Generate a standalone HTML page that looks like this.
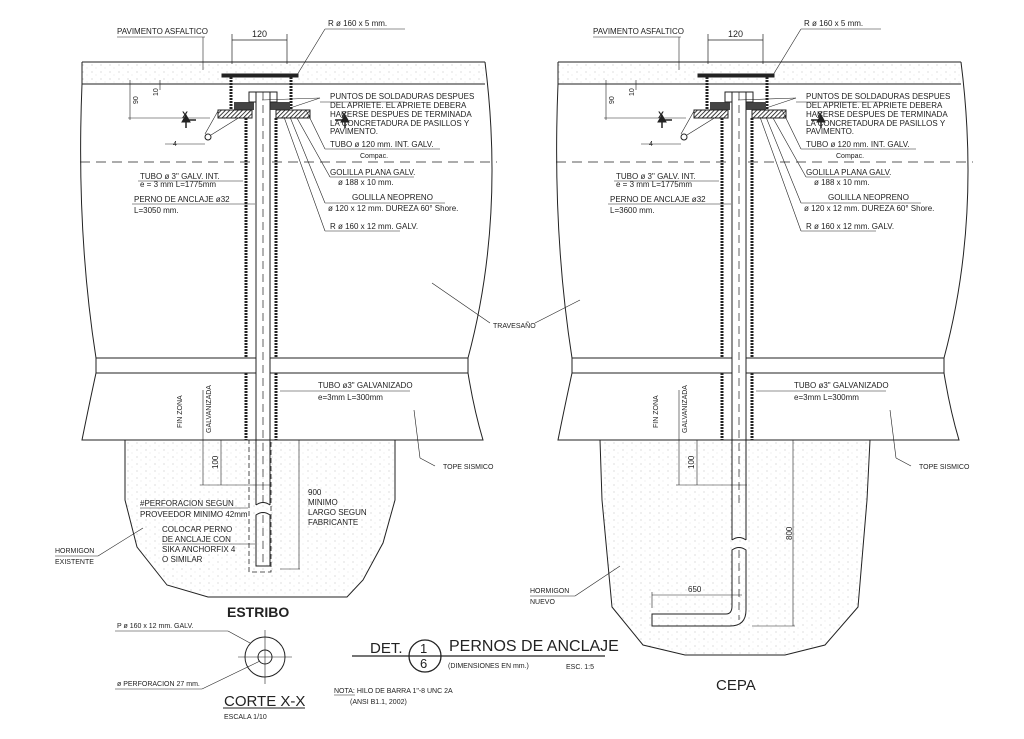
<!DOCTYPE html>
<html><head><meta charset="utf-8"><style>
html,body{margin:0;padding:0;background:#fff}
svg{display:block;font-family:"Liberation Sans",sans-serif;font-size:8px}
text{fill:#222}
</style></head><body>
<svg width="1024" height="739" viewBox="0 0 1024 739" xmlns="http://www.w3.org/2000/svg" font-size="8">
<defs>
<pattern id="dots" width="9" height="7" patternUnits="userSpaceOnUse">
<circle cx="2" cy="2" r="0.5" fill="#aaa"/><circle cx="6" cy="5" r="0.4" fill="#bbb"/>
</pattern>
<pattern id="hatch" width="3" height="3" patternUnits="userSpaceOnUse" patternTransform="rotate(45)">
<rect width="3" height="3" fill="#fff"/><line x1="0" y1="0" x2="0" y2="3" stroke="#111" stroke-width="1.6"/>
</pattern>
<g id="upper" stroke="#222" fill="none" stroke-width="1">
  <rect x="82" y="62" width="403" height="22" fill="url(#dots)" stroke="none"/>
  <line x1="82" y1="62" x2="485" y2="62"/>
  <line x1="82" y1="84" x2="485" y2="84"/>
  <path d="M82 62 L82 84 Q76 230 96 358 L96 373 Q88 410 82 440 L483 440 Q474 410 468 373 L468 358 Q505 220 485 62"/>
  <line x1="96" y1="358" x2="468" y2="358"/>
  <line x1="96" y1="373" x2="468" y2="373"/>
  <line x1="80" y1="162" x2="497" y2="162" stroke-dasharray="10,6" stroke-width="0.8"/>
  <rect x="222" y="74" width="76" height="3" fill="#222"/>
  <line x1="231" y1="77" x2="231" y2="110" stroke-width="3" stroke-dasharray="2,1"/>
  <line x1="291" y1="77" x2="291" y2="110" stroke-width="3" stroke-dasharray="2,1"/>
  <rect x="234" y="102" width="20" height="8" fill="#444" stroke="none"/>
  <rect x="270" y="102" width="20" height="8" fill="#444" stroke="none"/>
  <rect x="249" y="92" width="28" height="10" fill="#fff"/>
  <rect x="218" y="110" width="34" height="8" fill="url(#hatch)"/>
  <rect x="276" y="110" width="34" height="8" fill="url(#hatch)"/>
  <line x1="246" y1="118" x2="246" y2="358" stroke-width="3" stroke-dasharray="2,1"/>
  <line x1="276" y1="118" x2="276" y2="358" stroke-width="3" stroke-dasharray="2,1"/>
  <line x1="246" y1="373" x2="246" y2="440" stroke-width="3" stroke-dasharray="2,1"/>
  <line x1="276" y1="373" x2="276" y2="440" stroke-width="3" stroke-dasharray="2,1"/>
  <rect x="256" y="92" width="14" height="348" fill="#fff"/>
  <line x1="263" y1="92" x2="263" y2="505" stroke-dasharray="8,5" stroke-width="0.7"/>
  <line x1="232" y1="40" x2="287" y2="40" stroke-width="0.7"/>
  <line x1="232" y1="34" x2="232" y2="64" stroke-width="0.7"/>
  <line x1="287" y1="34" x2="287" y2="64" stroke-width="0.7"/>
  <line x1="128" y1="84" x2="210" y2="84" stroke-width="0.6"/>
  <line x1="128" y1="118" x2="210" y2="118" stroke-width="0.6"/>
  <line x1="130" y1="80" x2="130" y2="120" stroke-width="0.6"/>
  <line x1="160" y1="80" x2="160" y2="90" stroke-width="0.6"/>
  <path d="M186 128 L186 120 L196 120" stroke-width="1.5"/><path d="M182 122 L186 115 L190 122Z" fill="#222"/>
  <path d="M345 128 L345 120 L335 120" stroke-width="1.5"/><path d="M341 122 L345 115 L349 122Z" fill="#222"/>
  <circle cx="208" cy="137" r="3"/>
  <line x1="165" y1="144" x2="205" y2="144" stroke-width="0.6"/>
  <line x1="211" y1="135" x2="240" y2="117" stroke-width="0.6"/>
  <line x1="205" y1="134" x2="218" y2="111" stroke-width="0.6"/>
  <line x1="117" y1="37" x2="205" y2="37" stroke-width="0.6"/>
  <line x1="203" y1="37" x2="203" y2="70" stroke-width="0.6"/>
  <line x1="325" y1="29" x2="405" y2="29" stroke-width="0.6"/>
  <line x1="325" y1="29" x2="297" y2="75" stroke-width="0.6"/>
  <line x1="320" y1="102" x2="405" y2="102" stroke-width="0.6"/>
  <line x1="320" y1="98" x2="262" y2="100" stroke-width="0.6"/>
  <line x1="320" y1="98" x2="290" y2="108" stroke-width="0.6"/>
  <line x1="325" y1="149" x2="440" y2="149" stroke-width="0.6"/>
  <line x1="325" y1="149" x2="306" y2="110" stroke-width="0.6"/>
  <line x1="330" y1="177" x2="414" y2="177" stroke-width="0.6"/>
  <line x1="330" y1="177" x2="297" y2="118" stroke-width="0.6"/>
  <line x1="325" y1="203" x2="445" y2="203" stroke-width="0.6"/>
  <line x1="325" y1="203" x2="290" y2="117" stroke-width="0.6"/>
  <line x1="325" y1="231" x2="400" y2="231" stroke-width="0.6"/>
  <line x1="325" y1="231" x2="284" y2="117" stroke-width="0.6"/>
  <line x1="138" y1="181" x2="243" y2="181" stroke-width="0.6"/>
  <line x1="132" y1="204" x2="255" y2="204" stroke-width="0.6"/>
  <line x1="315" y1="391" x2="410" y2="391" stroke-width="0.6"/>
  <line x1="315" y1="391" x2="280" y2="391" stroke-width="0.6"/>
  <line x1="435" y1="466" x2="420" y2="458" stroke-width="0.6"/>
  <line x1="420" y1="458" x2="414" y2="410" stroke-width="0.6"/>
  <line x1="203" y1="390" x2="203" y2="485" stroke-width="0.6"/>
  <line x1="221" y1="440" x2="221" y2="485" stroke-width="0.6"/>
  <line x1="200" y1="485" x2="271" y2="485" stroke-width="0.6"/>
</g>
<g id="txt">
  <text x="117" y="34">PAVIMENTO ASFALTICO</text>
  <text x="252" y="37" font-size="9">120</text>
  <text x="328" y="26">R ø 160 x 5 mm.</text>
  <text x="330" y="99">PUNTOS DE SOLDADURAS DESPUES</text>
  <text x="330" y="108">DEL APRIETE. EL APRIETE DEBERA</text>
  <text x="330" y="117">HACERSE DESPUES DE TERMINADA</text>
  <text x="330" y="126">LA CONCRETADURA DE PASILLOS Y</text>
  <text x="330" y="134">PAVIMENTO.</text>
  <text x="330" y="147">TUBO ø 120 mm. INT. GALV.</text>
  <text x="360" y="158" font-size="7">Compac.</text>
  <text x="330" y="175">GOLILLA PLANA GALV.</text>
  <text x="338" y="185">ø 188 x 10 mm.</text>
  <text x="352" y="200">GOLILLA NEOPRENO</text>
  <text x="328" y="211">ø 120 x 12 mm. DUREZA 60° Shore.</text>
  <text x="330" y="229">R ø 160 x 12 mm. GALV.</text>
  <text x="140" y="179">TUBO ø 3" GALV. INT.</text>
  <text x="140" y="187">e = 3 mm L=1775mm</text>
  <text x="134" y="202">PERNO DE ANCLAJE ø32</text>
  <text x="134" y="213">L=3050 mm.</text>
  <text x="318" y="388">TUBO ø3" GALVANIZADO</text>
  <text x="318" y="400">e=3mm L=300mm</text>
  <text x="443" y="469" font-size="7">TOPE SISMICO</text>
  <text x="182" y="428" font-size="7" transform="rotate(-90 182 428)">FIN ZONA</text>
  <text x="211" y="433" font-size="7" transform="rotate(-90 211 433)">GALVANIZADA</text>
  <text x="218" y="469" transform="rotate(-90 218 469)">100</text>
  <text x="138" y="104" font-size="7" transform="rotate(-90 138 104)">90</text>
  <text x="158" y="96" font-size="7" transform="rotate(-90 158 96)">10</text>
  <text x="182" y="118" font-size="9" font-weight="bold">X</text>
  <text x="341" y="118" font-size="9" font-weight="bold">X</text>
  <text x="173" y="146" font-size="7">4</text>
</g>
</defs>

<path d="M125 440 L125 500 L137 547 L167 585 L208 597 L347 597 L363 580 L383 543 L395 500 L395 440 Z" fill="url(#dots)" stroke="#222" stroke-width="1"/>
<use href="#upper"/>
<use href="#txt"/>
<g stroke="#222" fill="none" stroke-width="1">
  <rect x="249" y="440" width="22" height="132" stroke-dasharray="5,3" stroke-width="0.8"/>
  <path d="M256 440 L256 505 M270 440 L270 505 M256 505 Q263 500 270 505"/>
  <path d="M256 515 Q263 510 270 515 L270 566 L256 566 Z"/>
  <line x1="263" y1="515" x2="263" y2="566" stroke-dasharray="8,5" stroke-width="0.7"/>
  <line x1="299" y1="440" x2="299" y2="569" stroke-width="0.6"/>
  <line x1="280" y1="569" x2="300" y2="569" stroke-width="0.6"/>
  <line x1="140" y1="508" x2="248" y2="508" stroke-width="0.6"/>
  <line x1="162" y1="544" x2="255" y2="544" stroke-width="0.6"/>
  <line x1="55" y1="556" x2="98" y2="556" stroke-width="0.6"/>
  <line x1="98" y1="556" x2="143" y2="528" stroke-width="0.6"/>
  <line x1="490" y1="323" x2="432" y2="283" stroke-width="0.6"/>
  <line x1="535" y1="323" x2="580" y2="300" stroke-width="0.6"/>
</g>
<text x="308" y="495">900</text>
<text x="308" y="505">MINIMO</text>
<text x="308" y="515">LARGO SEGUN</text>
<text x="308" y="525">FABRICANTE</text>
<text x="140" y="506">#PERFORACION SEGUN</text>
<text x="140" y="517">PROVEEDOR MINIMO 42mm</text>
<text x="162" y="532">COLOCAR PERNO</text>
<text x="162" y="542">DE ANCLAJE CON</text>
<text x="162" y="552">SIKA ANCHORFIX 4</text>
<text x="162" y="562">O SIMILAR</text>
<text x="55" y="553" font-size="7">HORMIGON</text>
<text x="55" y="564" font-size="7">EXISTENTE</text>
<text x="493" y="328" font-size="7">TRAVESAÑO</text>
<text x="227" y="617" font-size="14" font-weight="bold">ESTRIBO</text>

<path d="M600 440 L602 500 L612 607 L643 645 L685 655 L785 655 L825 645 L858 607 L867 500 L870 440 Z" fill="url(#dots)" stroke="#222" stroke-width="1"/>
<g transform="translate(476 0)">
  <use href="#upper"/>
  <use href="#txt"/>
</g>
<rect x="605" y="205" width="60" height="10" fill="#fff"/>
<text x="610" y="213">L=3600 mm.</text>
<g stroke="#222" fill="none" stroke-width="1">
  <path d="M732 440 L732 540 M746 440 L746 540 M732 540 Q739 535 746 540"/>
  <path d="M732 550 Q739 545 746 550 L746 610 Q746 626 730 626 L652 626 L652 614 L726 614 Q732 614 732 606 Z"/>
  <line x1="739" y1="550" x2="739" y2="620" stroke-dasharray="8,5" stroke-width="0.7"/>
  <line x1="793" y1="440" x2="793" y2="626" stroke-width="0.6"/>
  <line x1="752" y1="626" x2="795" y2="626" stroke-width="0.6"/>
  <line x1="652" y1="595" x2="742" y2="595" stroke-width="0.6"/>
  <line x1="652" y1="592" x2="652" y2="608" stroke-width="0.6"/>
  <line x1="530" y1="596" x2="575" y2="596" stroke-width="0.6"/>
  <line x1="575" y1="596" x2="620" y2="566" stroke-width="0.6"/>
</g>
<text x="688" y="592">650</text>
<text x="792" y="540" transform="rotate(-90 792 540)">800</text>
<text x="530" y="593" font-size="7">HORMIGON</text>
<text x="530" y="604" font-size="7">NUEVO</text>
<text x="716" y="690" font-size="15">CEPA</text>

<g stroke="#222" fill="none" stroke-width="1">
  <circle cx="265" cy="657" r="20"/>
  <circle cx="265" cy="657" r="7"/>
  <line x1="238" y1="657" x2="292" y2="657" stroke-width="0.6"/>
  <line x1="265" y1="630" x2="265" y2="684" stroke-width="0.6"/>
  <line x1="115" y1="631" x2="228" y2="631" stroke-width="0.6"/>
  <line x1="228" y1="631" x2="250" y2="643" stroke-width="0.6"/>
  <line x1="115" y1="689" x2="202" y2="689" stroke-width="0.6"/>
  <line x1="202" y1="689" x2="260" y2="661" stroke-width="0.6"/>
  <line x1="223" y1="708" x2="305" y2="708" stroke-width="1"/>
  <circle cx="425" cy="656" r="16" stroke-width="1.3"/>
  <line x1="352" y1="656" x2="605" y2="656" stroke-width="1.3"/>
  <line x1="334" y1="695" x2="355" y2="695" stroke-width="0.6"/>
</g>
<text x="117" y="628" font-size="7">P ø 160 x 12 mm. GALV.</text>
<text x="117" y="686" font-size="7">ø PERFORACION 27 mm.</text>
<text x="224" y="706" font-size="15">CORTE X-X</text>
<text x="224" y="719" font-size="7">ESCALA 1/10</text>
<text x="370" y="653" font-size="15">DET.</text>
<text x="420" y="653" font-size="13">1</text>
<text x="420" y="668" font-size="13">6</text>
<text x="449" y="651" font-size="16">PERNOS DE ANCLAJE</text>
<text x="448" y="668" font-size="7">(DIMENSIONES EN mm.)</text>
<text x="566" y="669" font-size="7">ESC. 1:5</text>
<text x="334" y="693" font-size="7">NOTA: HILO DE BARRA 1"-8 UNC 2A</text>
<text x="350" y="704" font-size="7">(ANSI B1.1, 2002)</text>
</svg>
</body></html>
